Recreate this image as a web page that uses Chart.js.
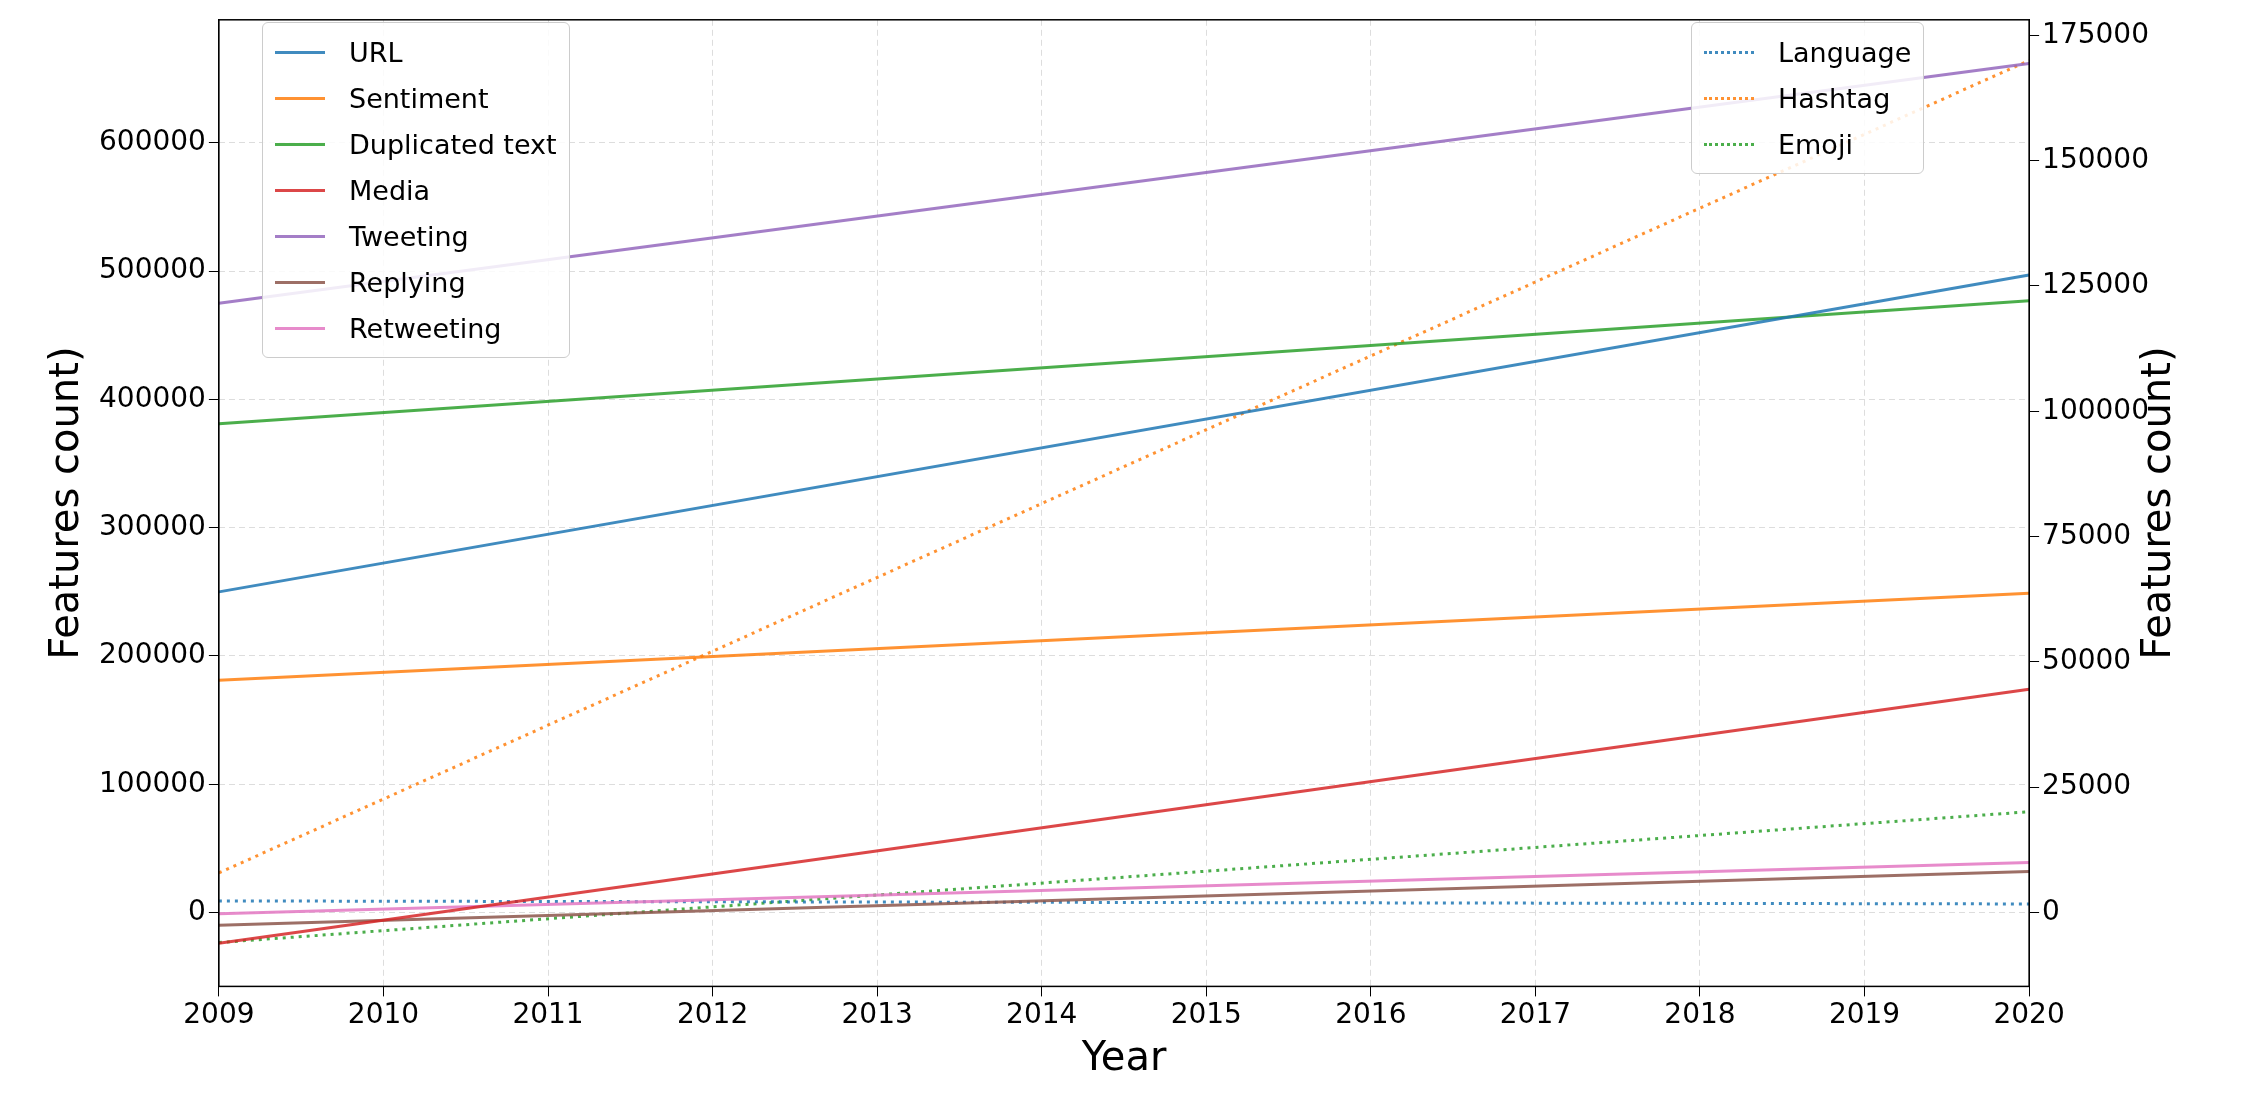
<!DOCTYPE html>
<html>
<head>
<script src="https://cdn.jsdelivr.net/npm/chart.js"></script>
<style>
  body { margin: 0; background: #fff; font-family: "DejaVu Sans", sans-serif; }
  #wrap { position: relative; width: 2242px; height: 1104px; }
  .legend { position: absolute; background: rgba(255,255,255,0.85); border: 1px solid #ccc; border-radius: 6px; padding: 6px 12px; font-size: 27px; }
  .legend div { display: flex; align-items: center; height: 46px; }
  .legend span.line { display: inline-block; width: 50px; margin-right: 24px; }
</style>
</head>
<body>
<div id="wrap">
  <canvas id="c" width="2242" height="1104"></canvas>
  <div class="legend" id="legL" style="left:262px; top:22px;"></div>
  <div class="legend" id="legR" style="left:1691px; top:22px;"></div>
</div>
<script>
const years = [2009, 2020];
const leftTicks = [0, 100000, 200000, 300000, 400000, 500000, 600000];
const rightTicks = [0, 25000, 50000, 75000, 100000, 125000, 150000, 175000];
const leftNames = ['URL', 'Sentiment', 'Duplicated text', 'Media', 'Tweeting', 'Replying', 'Retweeting'];
const leftColors = ['rgba(31,119,180,0.85)', 'rgba(255,127,14,0.85)', 'rgba(44,160,44,0.85)', 'rgba(214,39,40,0.85)', 'rgba(148,103,189,0.85)', 'rgba(140,86,75,0.85)', 'rgba(227,119,194,0.85)'];
const leftValues = [
  [250000, 497000],
  [181000, 249000],
  [381000, 477000],
  [-24000, 174000],
  [475000, 662000],
  [-10000, 32000],
  [-1000, 39000]
];
const rightNames = ['Language', 'Hashtag', 'Emoji'];
const rightColors = ['rgba(31,119,180,0.85)', 'rgba(255,127,14,0.85)', 'rgba(44,160,44,0.85)'];
const rightValues = [
  [2300, 1700],
  [7900, 170000],
  [-6000, 20100]
];

const datasets = [];
leftNames.forEach((n, i) => datasets.push({
  label: n, yAxisID: 'y', borderColor: leftColors[i], borderWidth: 3, pointRadius: 0,
  data: years.map((x, j) => ({x: x, y: leftValues[i][j]}))
}));
rightNames.forEach((n, i) => datasets.push({
  label: n, yAxisID: 'y1', borderColor: rightColors[i], borderWidth: 3, pointRadius: 0,
  borderDash: [3, 5],
  data: years.map((x, j) => ({x: x, y: rightValues[i][j]}))
}));

function fillLegend(id, names, colors, dotted) {
  const el = document.getElementById(id);
  names.forEach((n, i) => {
    const style = (dotted ? 'border-top:3px dotted ' : 'border-top:3px solid ') + colors[i];
    el.innerHTML += '<div><span class="line" style="' + style + '"></span>' + n + '</div>';
  });
}
fillLegend('legL', leftNames, leftColors, false);
fillLegend('legR', rightNames, rightColors, true);

// box around plot and right-hand title drawn like matplotlib (reading upward)
const frame = {
  id: 'frame',
  afterDraw(chart) {
    const a = chart.chartArea, ctx = chart.ctx;
    ctx.save();
    ctx.strokeStyle = '#000'; ctx.lineWidth = 1.5;
    ctx.strokeRect(a.left, a.top, a.right - a.left, a.bottom - a.top);
    ctx.translate(2160, (a.top + a.bottom) / 2);
    ctx.rotate(-Math.PI / 2);
    ctx.fillStyle = '#000';
    ctx.font = '40px "DejaVu Sans"';
    ctx.textAlign = 'center';
    ctx.textBaseline = 'middle';
    ctx.fillText('Features count)', 0, 0);
    ctx.restore();
  }
};

const tickFont = { family: 'DejaVu Sans', size: 28 };
const titleFont = { family: 'DejaVu Sans', size: 40 };
new Chart(document.getElementById('c'), {
  type: 'line',
  data: { datasets: datasets },
  plugins: [frame],
  options: {
    responsive: false,
    animation: false,
    layout: { padding: { left: 40, right: 90, top: 7, bottom: 20 } },
    plugins: { legend: { display: false }, tooltip: { enabled: false } },
    scales: {
      x: {
        type: 'linear', min: 2009, max: 2020,
        ticks: { stepSize: 1, color: '#000', font: tickFont, callback: v => String(v) },
        grid: { color: '#ddd', tickColor: '#000', tickLength: 10 },
        border: { dash: [6, 4], color: '#000' },
        title: { display: true, text: 'Year', color: '#000', font: titleFont, padding: 0 }
      },
      y: {
        position: 'left', min: -57600, max: 696000,
        afterBuildTicks: s => { s.ticks = leftTicks.map(v => ({value: v})); },
        ticks: { color: '#000', font: tickFont, callback: v => String(v) },
        grid: { color: '#ddd', tickColor: '#000', tickLength: 10 },
        border: { dash: [6, 4], color: '#000' },
        title: { display: true, text: 'Features count)', color: '#000', font: titleFont, padding: 4 }
      },
      y1: {
        position: 'right', min: -14750, max: 178100,
        afterBuildTicks: s => { s.ticks = rightTicks.map(v => ({value: v})); },
        ticks: { color: '#000', font: tickFont, callback: v => String(v) },
        grid: { drawOnChartArea: false, tickColor: '#000', tickLength: 10 },
        border: { color: '#000' }
      }
    }
  }
});
</script>
</body>
</html>
